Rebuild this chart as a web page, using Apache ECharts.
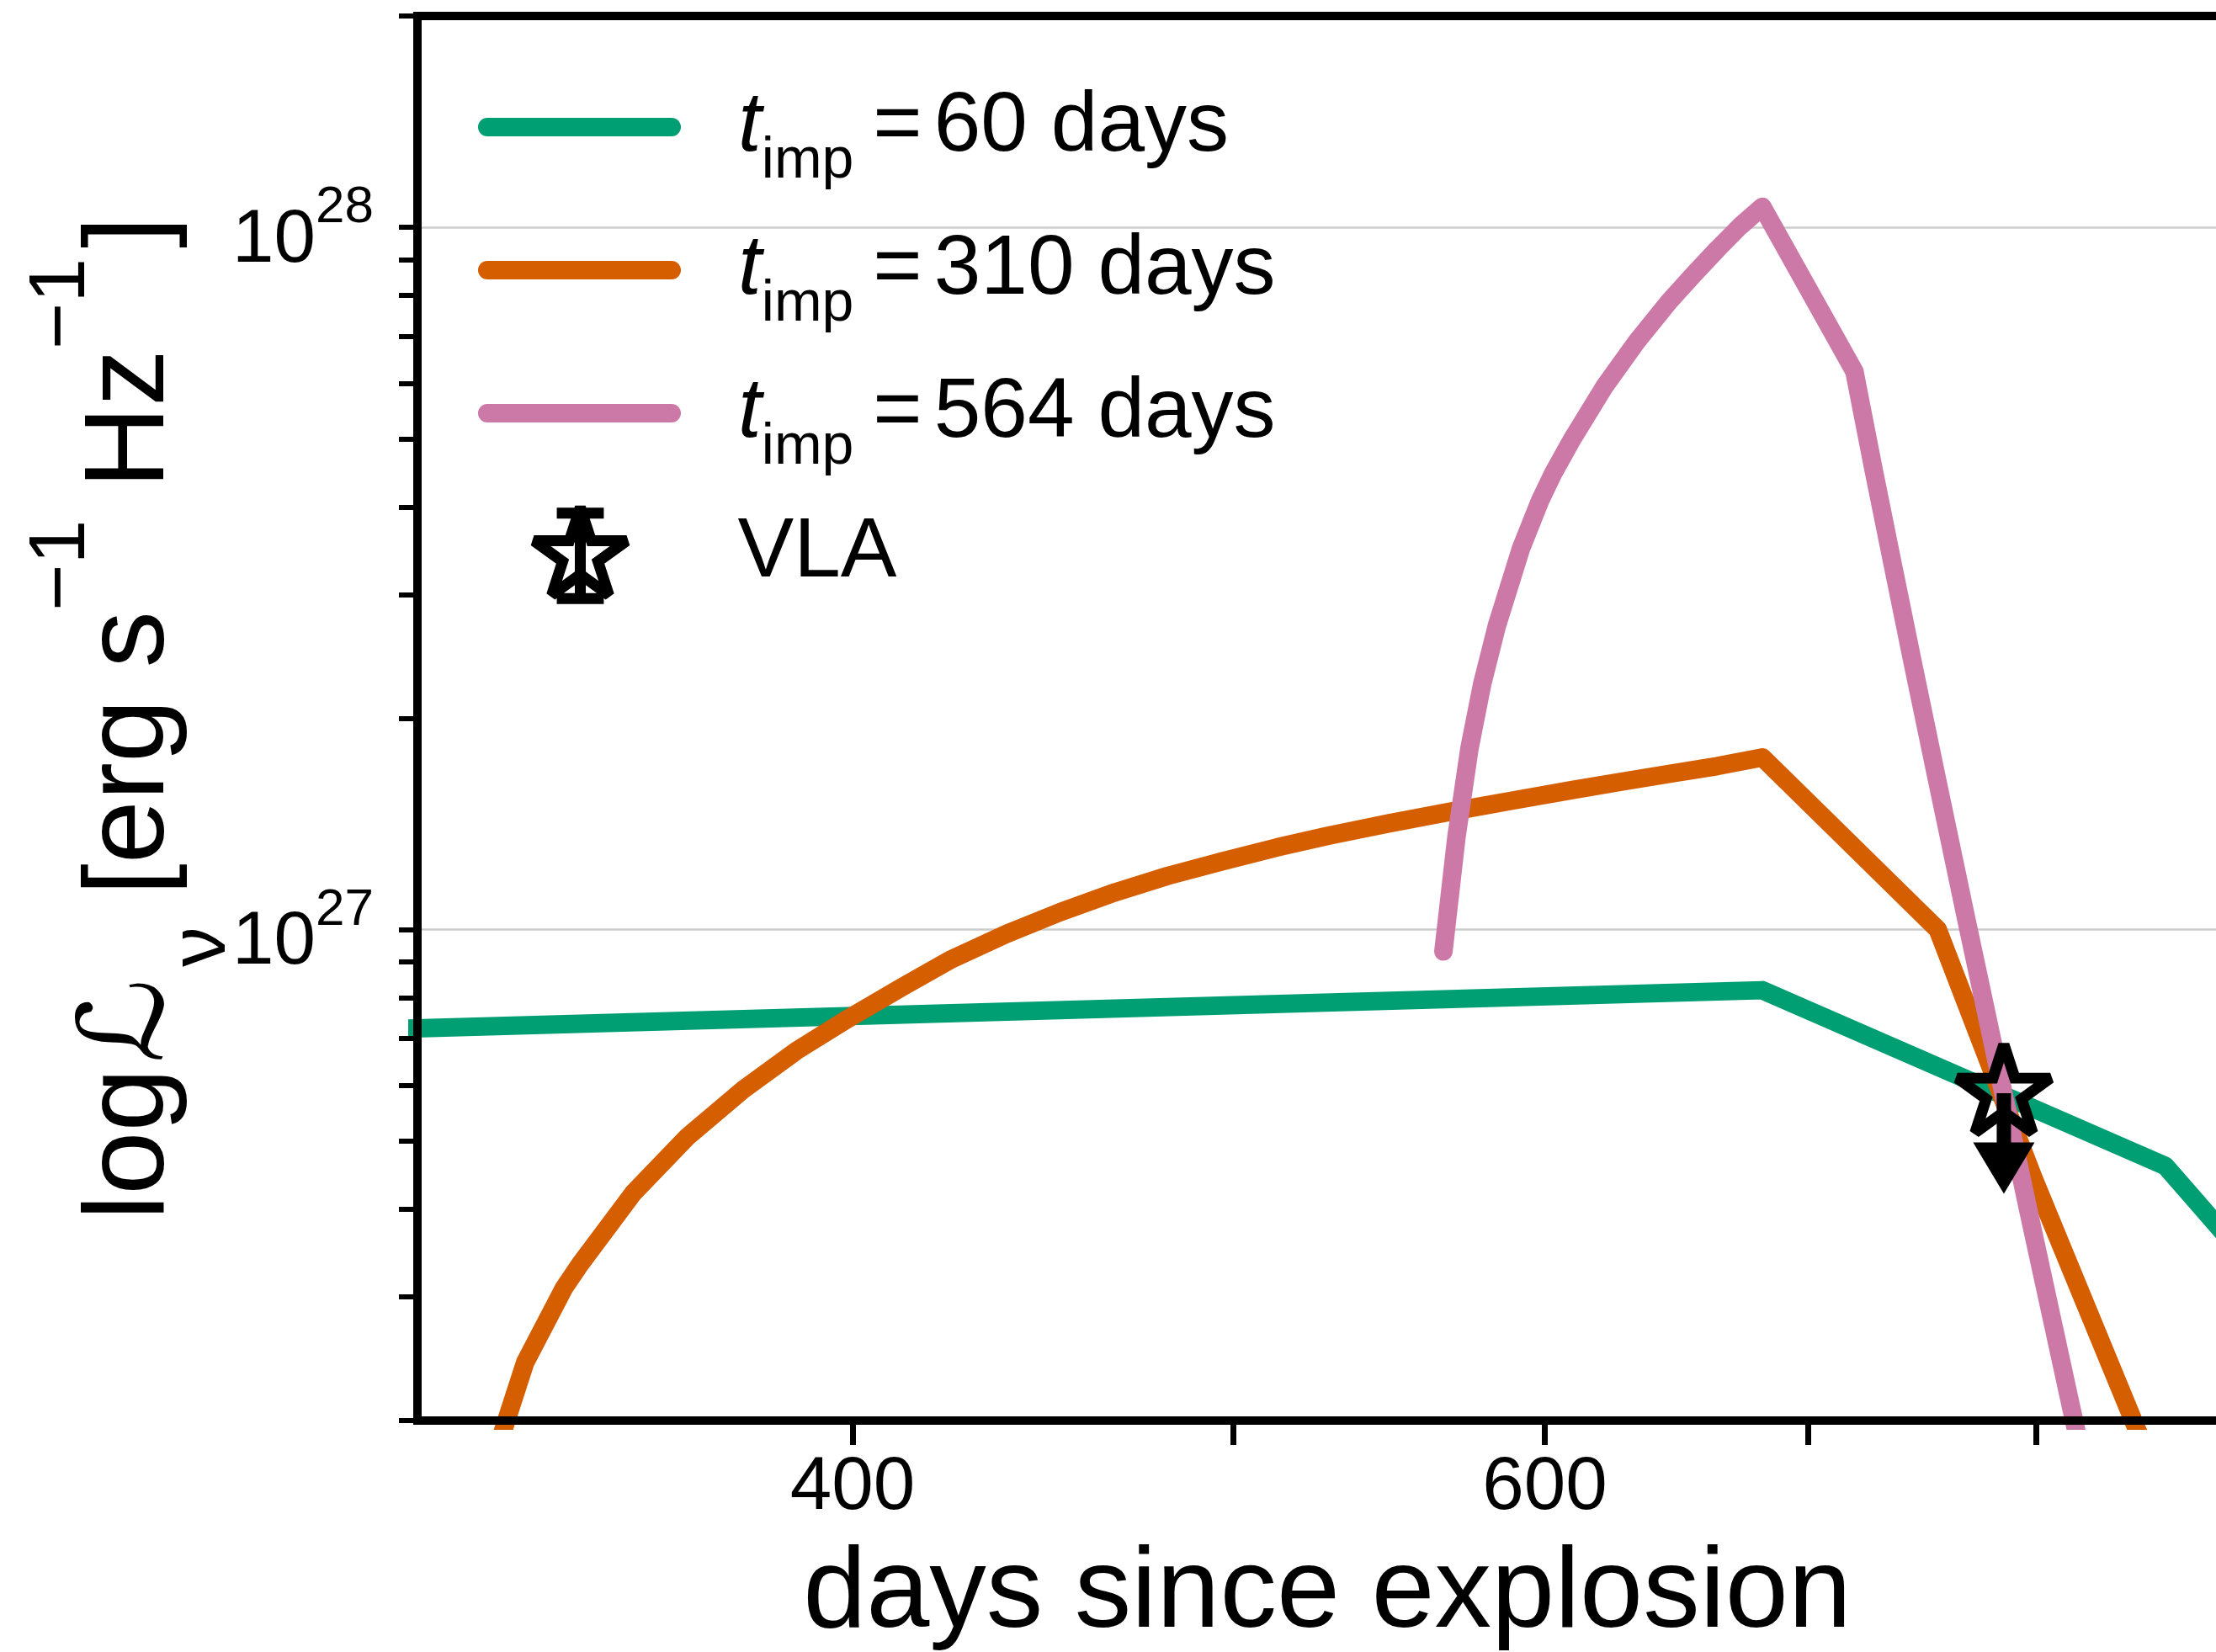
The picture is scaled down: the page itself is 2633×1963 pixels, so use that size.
<!DOCTYPE html>
<html>
<head>
<meta charset="utf-8">
<script src="https://cdn.jsdelivr.net/npm/echarts@6/dist/echarts.min.js"></script>
<style>
  html, body { margin: 0; padding: 0; background: #fff; }
  #chart { width: 2633px; height: 1963px; }
</style>
</head>
<body>
<div id="chart"></div>
<script>
// Model radio light curves: days since explosion vs. spectral luminosity (erg s^-1 Hz^-1)
const t60Days = [306, 681.5, 862.9, 918.9];
const t60Lum  = [7.22e26, 8.20e26, 4.61e26, 3.08e26];

const t310Days = [324.9, 330.2, 337.8, 341.0, 351.7, 363.1, 375.2, 387.0, 399.1, 412.0,
                  423.9, 437.7, 451.7, 466.4, 481.1, 496.8, 513.0, 528.6, 547.6, 567.5,
                  588.4, 609.9, 627.3, 645.4, 663.8, 681.6, 755.3, 798.8, 857.5];
const t310Lum  = [1.83e26, 2.42e26, 3.09e26, 3.34e26, 4.21e26, 5.07e26, 5.92e26, 6.72e26, 7.48e26, 8.30e26,
                  9.08e26, 9.86e26, 1.059e27, 1.130e27, 1.193e27, 1.252e27, 1.310e27, 1.361e27, 1.417e27, 1.472e27,
                  1.526e27, 1.581e27, 1.624e27, 1.667e27, 1.710e27, 1.759e27, 1.00e27, 4.43e26, 1.69e26];

const t564Days = [565.4, 569.7, 574.1, 578.4, 583.4, 591.7, 598.4, 603.0, 609.9, 621.4,
                  633.2, 645.3, 655.1, 663.8, 672.6, 681.5, 719.3, 727.1, 735.1, 744.2,
                  754.5, 767.6, 785.1, 796.4, 817.1, 824.4];
const t564Lum  = [9.31e26, 1.352e27, 1.813e27, 2.239e27, 2.710e27, 3.491e27, 4.088e27, 4.470e27, 5.010e27, 5.940e27,
                  6.877e27, 7.841e27, 8.607e27, 9.310e27, 1.003e28, 1.070e28, 6.235e27, 4.575e27, 3.377e27, 2.408e27,
                  1.662e27, 1.050e27, 5.81e26, 3.99e26, 2.06e26, 1.64e26];

// VLA upper limit: detection level and the lower end of the limit bar
const vlaDays  = [785.1];
const vlaLum   = [5.85e26];
const vlaLimit = [4.95e26];

// Legend entries (impulse times, days)
const impTimes = ['60', '310', '564'];

// Axis ticks and labels
const xTicks      = [400, 500, 600, 700, 800, 900];
const xTickLabels = [400, 600];
const yTicks      = [2e26, 3e26, 4e26, 5e26, 6e26, 7e26, 8e26, 9e26,
                     1e27, 2e27, 3e27, 4e27, 5e27, 6e27, 7e27, 8e27, 9e27, 1e28, 2e28];
const yTickLabels = [1e27, 1e28];

const X_MIN = 310, X_MAX = 900;
const Y_MIN = 1.9999e26, Y_MAX = 2.0001e28;

const FONT = 'Liberation Sans';
const COLORS = ['#009E73', '#D55E00', '#CC79A7'];

function pairs(xs, ys) { return xs.map((x, i) => [x, ys[i]]); }

// Open five-pointed star (outer radius 58, inner radius 22.15), centred on the origin
const STAR = 'M0,-58L13.02,-17.92L55.16,-17.92L21.07,6.84L34.09,46.92L0,22.15L-34.09,46.92L-21.07,6.84L-55.16,-17.92L-13.02,-17.92Z';
const starSymbol = 'path://' + STAR;
const starWithBar = 'path://' + STAR + 'M0,-51L0,51M-28,-51L28,-51M-28,51L28,51';

const chart = echarts.init(document.getElementById('chart'), null, { renderer: 'canvas', width: 2633, height: 1963 });

const spine = { color: '#000', width: 10, cap: 'square' };
const starStyle = {
  color: 'rgba(0,0,0,0)', opacity: 1, borderColor: '#000', borderWidth: 13,
  borderJoin: 'miter', borderMiterLimit: 2
};

function lineSeries(name, days, lum, color) {
  return {
    name: name, type: 'line', data: pairs(days, lum),
    symbol: 'none', showSymbol: false, silent: true, clip: true, z: 2,
    itemStyle: { color: color },
    lineStyle: { color: color, width: 22, cap: 'round', join: 'round' }
  };
}

const option = {
  animation: false,
  backgroundColor: '#fff',
  grid: { left: 496, right: -25, top: 19, bottom: 275, containLabel: false, outerBoundsMode: 'none' },
  xAxis: [
    {
      type: 'log', position: 'bottom', min: X_MIN, max: X_MAX, z: 10,
      axisLine: { show: true, onZero: false, lineStyle: spine },
      axisTick: { show: true, length: 29, customValues: xTicks, lineStyle: { color: '#000', width: 7 } },
      axisLabel: {
        show: true, customValues: xTickLabels, margin: 36,
        fontSize: 89, lineHeight: 89, fontFamily: FONT, color: '#000',
        formatter: v => String(Math.round(v))
      },
      minorTick: { show: false }, splitLine: { show: false }, minorSplitLine: { show: false },
      name: 'days since explosion', nameLocation: 'middle', nameGap: 140, nameMoveOverlap: false,
      nameTextStyle: { fontSize: 135, lineHeight: 135, fontFamily: FONT, color: '#000' }
    },
    {
      type: 'log', position: 'top', min: X_MIN, max: X_MAX, z: 10,
      axisLine: { show: true, onZero: false, lineStyle: spine },
      axisTick: { show: false }, axisLabel: { show: false }, splitLine: { show: false }
    }
  ],
  yAxis: [
    {
      type: 'log', position: 'left', min: Y_MIN, max: Y_MAX, z: 10,
      axisLine: { show: true, onZero: false, lineStyle: spine },
      axisTick: { show: true, length: 22, customValues: yTicks, lineStyle: { color: '#000', width: 6 } },
      axisLabel: {
        show: true, customValues: yTickLabels, margin: 52, padding: [32, 0, 0, 0],
        formatter: v => '{b|10}{s|' + Math.round(Math.log10(v)) + '}',
        rich: {
          b: { fontSize: 89, lineHeight: 140, fontFamily: FONT, color: '#000' },
          s: { fontSize: 62, lineHeight: 33, verticalAlign: 'top', fontFamily: FONT, color: '#000' }
        }
      },
      minorTick: { show: false }, splitLine: { show: false },
      name: '{n|log}{c|\u2112}{v|\u03bd}{n| [erg s}{p|\u22121}{n| Hz}{p|\u22121}{r|]}',
      nameLocation: 'middle', nameRotate: 90, nameGap: 208, nameMoveOverlap: false,
      nameTextStyle: {
        fontSize: 135, lineHeight: 262, fontFamily: FONT, color: '#000',
        rich: {
          n: { fontSize: 135, lineHeight: 262, fontFamily: FONT, color: '#000' },
          c: { fontSize: 140, lineHeight: 262, fontFamily: 'DejaVu Sans', color: '#000', padding: [0, 14, 0, 6] },
          v: { fontSize: 95, lineHeight: 154, verticalAlign: 'bottom', fontFamily: FONT, color: '#000' },
          p: { fontSize: 95, lineHeight: 100, verticalAlign: 'top', fontFamily: FONT, color: '#000' },
          r: { fontSize: 135, lineHeight: 262, fontFamily: FONT, color: '#000', padding: [0, 0, 0, 12] }
        }
      }
    },
    {
      // horizontal grid lines at the decades
      type: 'log', position: 'left', min: Y_MIN, max: Y_MAX, z: 0,
      axisLine: { show: false }, axisTick: { show: false }, axisLabel: { show: false },
      splitLine: { show: true, lineStyle: { color: '#cccccc', width: 2.5 } }
    }
  ],
  legend: [
    {
      orient: 'vertical', left: 568, top: 76, padding: 0,
      itemWidth: 219, itemHeight: 22, itemGap: 20, selectedMode: false,
      data: impTimes,
      lineStyle: { width: 22, cap: 'round' },
      formatter: n => '{t|t}{s|imp}{e|=}{n|' + n + ' days}',
      textStyle: {
        fontSize: 100, lineHeight: 150, fontFamily: FONT, color: '#000', padding: [0, 0, 0, 74],
        rich: {
          t: { fontSize: 100, lineHeight: 150, fontStyle: 'italic', fontFamily: FONT, color: '#000' },
          s: { fontSize: 68, lineHeight: 66, verticalAlign: 'bottom', fontFamily: FONT, color: '#000' },
          e: { fontSize: 100, lineHeight: 150, padding: [0, 14, 0, 23], fontFamily: FONT, color: '#000' },
          n: { fontSize: 100, lineHeight: 150, fontFamily: FONT, color: '#000' }
        }
      }
    },
    {
      orient: 'vertical', left: 628, top: 582, padding: 0,
      itemWidth: 110, itemHeight: 109, selectedMode: false,
      data: [{ name: 'VLA', icon: starWithBar }],
      itemStyle: starStyle,
      textStyle: { fontSize: 100, lineHeight: 150, fontFamily: FONT, color: '#000', padding: [0, 0, 0, 127] }
    }
  ],
  series: [
    lineSeries(impTimes[0], t60Days, t60Lum, COLORS[0]),
    lineSeries(impTimes[1], t310Days, t310Lum, COLORS[1]),
    lineSeries(impTimes[2], t564Days, t564Lum, COLORS[2]),
    {
      name: 'VLA limit', type: 'custom', silent: true, z: 3,
      data: vlaDays.map((d, i) => [d, vlaLum[i], vlaLimit[i]]),
      renderItem: function (params, api) {
        const top = api.coord([api.value(0), api.value(1)]);
        const low = api.coord([api.value(0), api.value(2)]);
        return {
          type: 'group',
          children: [
            { type: 'line', shape: { x1: top[0], y1: top[1], x2: low[0], y2: low[1] },
              style: { stroke: '#000', lineWidth: 17, lineCap: 'butt' } },
            { type: 'polygon',
              shape: { points: [[low[0] - 33, low[1]], [low[0] + 33, low[1]], [low[0], low[1] + 55]] },
              style: { fill: '#000', stroke: '#000', lineWidth: 4, lineJoin: 'miter' } }
          ]
        };
      }
    },
    {
      name: 'VLA', type: 'scatter', silent: true, z: 4,
      data: pairs(vlaDays, vlaLum),
      symbol: starSymbol, symbolSize: [110.3, 104.9], symbolOffset: [0, -5.5],
      itemStyle: starStyle
    }
  ]
};

chart.setOption(option);
</script>
</body>
</html>
